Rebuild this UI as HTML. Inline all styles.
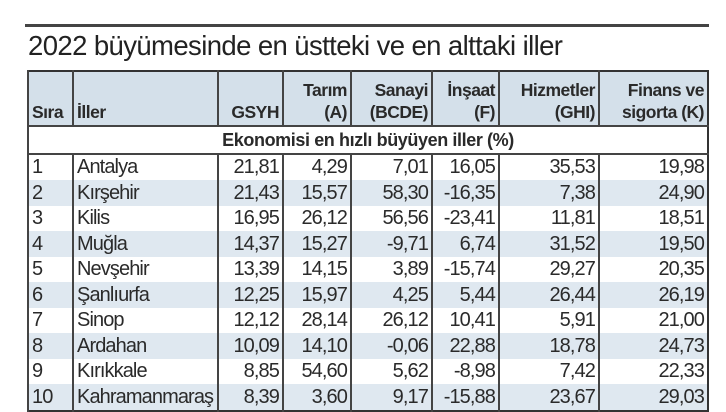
<!DOCTYPE html>
<html><head><meta charset="utf-8"><style>
body{margin:0;width:726px;height:412px;background:#fff;overflow:hidden;font-family:"Liberation Sans Narrow","Liberation Sans",sans-serif;color:#2a2a2a}
#rule{position:absolute;left:25px;top:24px;width:684px;height:3px;background:#444}
#title{position:absolute;left:28px;top:30px;font-family:"Liberation Sans",sans-serif;font-size:27.5px;letter-spacing:-0.6px;color:#222;white-space:nowrap}
table{position:absolute;left:27px;top:70px;border-collapse:collapse;width:680px;table-layout:fixed;border:2px solid #333}
td,th{border-left:2px solid #444;padding:0 3px;font-size:20px;letter-spacing:-0.9px;height:25.5px;line-height:24px;white-space:nowrap;overflow:hidden}
th{background:#d4e0ea;font-weight:bold;font-size:17.5px;letter-spacing:-0.5px;line-height:22px;text-align:right;vertical-align:bottom;padding-bottom:2px;height:51px;border-bottom:2px solid #444}
.l{text-align:left}
td{text-align:right}
tr.b td{background:#dfe8f0}
td.sub{text-align:center;font-weight:bold;font-size:18px;letter-spacing:-0.4px;border-bottom:2px solid #444}
</style></head><body>
<div id="rule"></div>
<div id="title">2022 büyümesinde en üstteki ve en alttaki iller</div>
<table>
<colgroup><col style="width:45px"><col style="width:145px"><col style="width:65px"><col style="width:68px"><col style="width:81px"><col style="width:67px"><col style="width:100px"><col style="width:109px"></colgroup>
<tr><th class="l">Sıra</th><th class="l">İller</th><th>GSYH</th><th>Tarım<br>(A)</th><th>Sanayi<br>(BCDE)</th><th>İnşaat<br>(F)</th><th>Hizmetler<br>(GHI)</th><th>Finans ve<br>sigorta (K)</th></tr>
<tr><td colspan="8" class="sub">Ekonomisi en hızlı büyüyen iller (%)</td></tr>
<tr><td class="l">1</td><td class="l">Antalya</td><td>21,81</td><td>4,29</td><td>7,01</td><td>16,05</td><td>35,53</td><td>19,98</td></tr>
<tr class="b"><td class="l">2</td><td class="l">Kırşehir</td><td>21,43</td><td>15,57</td><td>58,30</td><td>-16,35</td><td>7,38</td><td>24,90</td></tr>
<tr><td class="l">3</td><td class="l">Kilis</td><td>16,95</td><td>26,12</td><td>56,56</td><td>-23,41</td><td>11,81</td><td>18,51</td></tr>
<tr class="b"><td class="l">4</td><td class="l">Muğla</td><td>14,37</td><td>15,27</td><td>-9,71</td><td>6,74</td><td>31,52</td><td>19,50</td></tr>
<tr><td class="l">5</td><td class="l">Nevşehir</td><td>13,39</td><td>14,15</td><td>3,89</td><td>-15,74</td><td>29,27</td><td>20,35</td></tr>
<tr class="b"><td class="l">6</td><td class="l">Şanlıurfa</td><td>12,25</td><td>15,97</td><td>4,25</td><td>5,44</td><td>26,44</td><td>26,19</td></tr>
<tr><td class="l">7</td><td class="l">Sinop</td><td>12,12</td><td>28,14</td><td>26,12</td><td>10,41</td><td>5,91</td><td>21,00</td></tr>
<tr class="b"><td class="l">8</td><td class="l">Ardahan</td><td>10,09</td><td>14,10</td><td>-0,06</td><td>22,88</td><td>18,78</td><td>24,73</td></tr>
<tr><td class="l">9</td><td class="l">Kırıkkale</td><td>8,85</td><td>54,60</td><td>5,62</td><td>-8,98</td><td>7,42</td><td>22,33</td></tr>
<tr class="b"><td class="l">10</td><td class="l">Kahramanmaraş</td><td>8,39</td><td>3,60</td><td>9,17</td><td>-15,88</td><td>23,67</td><td>29,03</td></tr>
</table>
</body></html>
